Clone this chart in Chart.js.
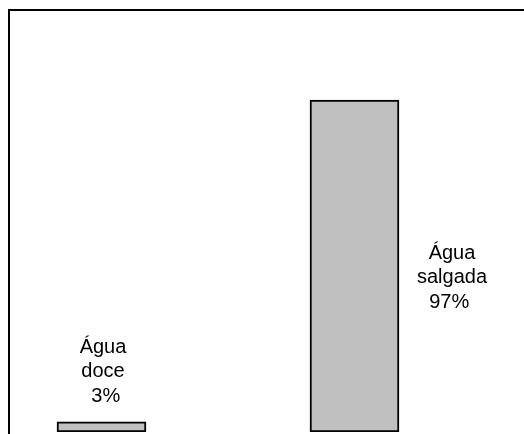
<!DOCTYPE html>
<html>
<head>
<meta charset="utf-8">
<script src="https://cdn.jsdelivr.net/npm/chart.js@4"></script>
<style>
  html, body { margin: 0; padding: 0; background: #fff; }
  #wrap { width: 524px; height: 434px; }
  canvas { display: block; }
</style>
</head>
<body>
<div id="wrap"><canvas id="c" width="524" height="434"></canvas></div>
<script>
const categories = ["Água doce", "Água salgada"];
const values = [3, 97];
const yMax = 123.3;

const labelPlugin = {
  id: 'frameAndLabels',
  beforeDatasetsDraw(chart) {
    const ctx = chart.ctx, a = chart.chartArea;
    ctx.save();
    ctx.strokeStyle = '#000';
    ctx.lineWidth = 2;
    ctx.beginPath();
    ctx.moveTo(a.left, chart.height);
    ctx.lineTo(a.left, a.top);
    ctx.lineTo(chart.width, a.top);
    ctx.stroke();
    ctx.restore();
  },
  afterDatasetsDraw(chart) {
    const ctx = chart.ctx;
    const meta = chart.getDatasetMeta(0);
    ctx.save();
    ctx.fillStyle = '#000';
    ctx.font = '20px "Liberation Sans", Arial, sans-serif';
    ctx.textAlign = 'center';
    ctx.textBaseline = 'alphabetic';
    const lh = 24.5;
    meta.data.forEach((bar, i) => {
      const words = categories[i].split(' ');
      if (i === 0) {
        const lines = [words[0], words[1], ' ' + values[i] + '%'];
        const cx = bar.x + 1.5;
        const lastBase = bar.y - 20;
        lines.forEach((t, k) => ctx.fillText(t, cx, lastBase - (lines.length - 1 - k) * lh));
      } else {
        const lines = [words[0], words[1], values[i] + '% '];
        const cx = bar.x + 97.5;
        const midBase = (bar.y + bar.base) / 2 + 17;
        lines.forEach((t, k) => ctx.fillText(t, cx, midBase + (k - 1) * lh));
      }
    });
    ctx.restore();
  }
};

new Chart(document.getElementById('c'), {
  type: 'bar',
  data: {
    datasets: [{
      data: categories.map((c, i) => ({ x: i, y: values[i] })),
      backgroundColor: '#C0C0C0',
      borderColor: '#000',
      borderWidth: 2,
      borderSkipped: false,
      barThickness: 89
    }]
  },
  options: {
    responsive: false,
    animation: false,
    layout: { padding: { left: 9, top: 10, right: 0, bottom: 2 } },
    plugins: { legend: { display: false }, tooltip: { enabled: false } },
    scales: {
      x: { type: 'linear', offset: false, min: -0.3656, max: 1.670, display: false },
      y: { min: 0, max: yMax, display: false }
    }
  },
  plugins: [labelPlugin]
});
</script>
</body>
</html>
